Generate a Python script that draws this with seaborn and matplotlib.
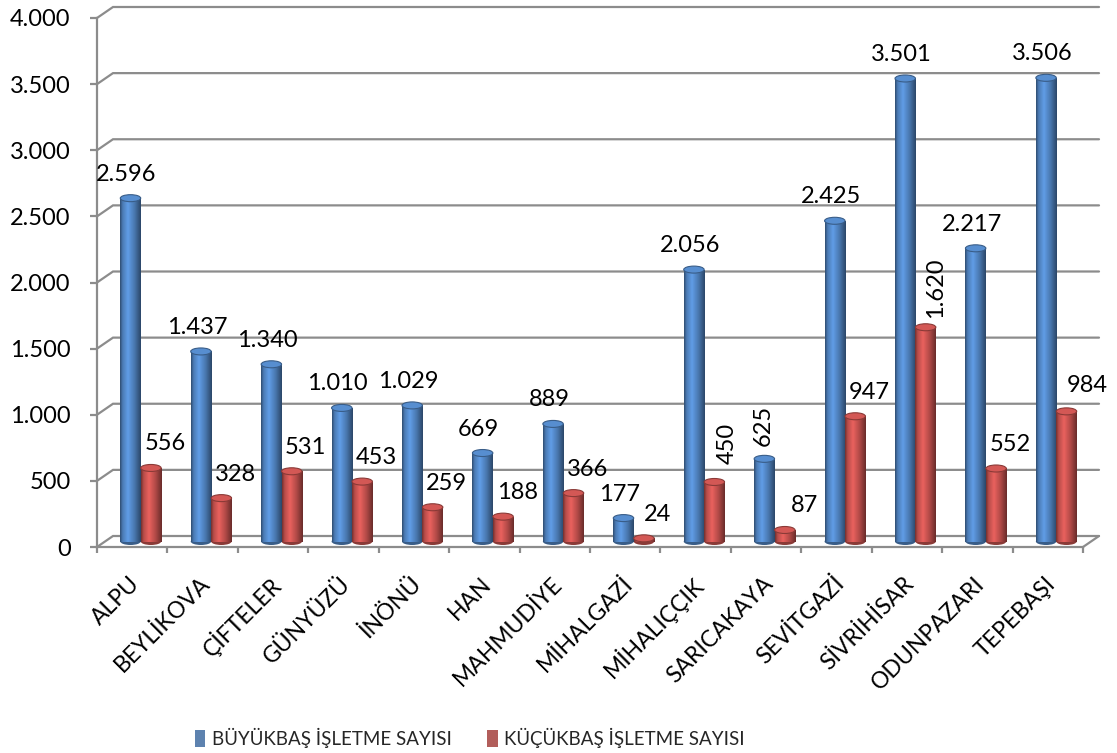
import numpy as np
import pandas as pd
import matplotlib
matplotlib.use("Agg")
import matplotlib.pyplot as plt
from matplotlib.patches import Ellipse
from matplotlib.transforms import ScaledTranslation
from matplotlib.colors import to_rgb
import seaborn as sns

# ---- data ----
districts = ["ALPU", "BEYLİKOVA", "ÇİFTELER", "GÜNYÜZÜ", "İNÖNÜ", "HAN", "MAHMUDİYE",
             "MİHALGAZİ", "MİHALIÇÇIK", "SARICAKAYA", "SEVİTGAZİ", "SİVRİHİSAR",
             "ODUNPAZARI", "TEPEBAŞI"]
buyukbas = [2596, 1437, 1340, 1010, 1029, 669, 889, 177, 2056, 625, 2425, 3501, 2217, 3506]
kucukbas = [556, 328, 531, 453, 259, 188, 366, 24, 450, 87, 947, 1620, 552, 984]
series_names = ["BÜYÜKBAŞ İŞLETME SAYISI", "KÜÇÜKBAŞ İŞLETME SAYISI"]
y_ticks = [0, 500, 1000, 1500, 2000, 2500, 3000, 3500, 4000]

df = pd.DataFrame({
    "ilce": districts * 2,
    "seri": [series_names[0]] * len(districts) + [series_names[1]] * len(districts),
    "deger": buyukbas + kucukbas,
})

sns.set_theme(style="white")
plt.rcParams["font.family"] = ["Lato", "DejaVu Sans"]

BLUE = "#4F81BD"
RED = "#C0504D"
GRID = "#8c8c8c"

W, H, DPI = 1117, 753, 100
fig = plt.figure(figsize=(W / DPI, H / DPI), dpi=DPI)
ax = fig.add_axes([97 / W, (H - 547) / H, (1083 - 97) / W, (547 - 18) / H])

sns.barplot(data=df, x="ilce", y="deger", hue="seri", palette=[BLUE, RED],
            width=0.58, dodge=True, linewidth=0, ax=ax, zorder=3)
handles, labels = ax.get_legend_handles_labels()
if ax.get_legend() is not None:
    ax.get_legend().remove()

n = len(districts)
xmin, xmax = -0.5, n - 0.5
ymax = 4000
ax.set_xlim(xmin, xmax)
ax.set_ylim(0, ymax)

# pixel -> data conversions for the pseudo-3D depth
px_x = (1083 - 97) / n          # pixels per category
px_y = (547 - 18) / ymax        # pixels per unit
depth_dx, depth_dy = 16 / px_x, 11 / px_y

# back wall gridlines with the left-wall diagonals
for v in y_ticks:
    ax.plot([xmin, xmin + depth_dx, xmax + depth_dx], [v, v + depth_dy, v + depth_dy],
            color=GRID, lw=1.6, clip_on=False, zorder=1, solid_joinstyle="miter")
# right floor edge
ax.plot([xmax, xmax + depth_dx], [0, depth_dy], color=GRID, lw=1.6, clip_on=False, zorder=1)

# cylinders sit half way into the depth
mid = ax.transData + ScaledTranslation(8.5 / DPI, 5.5 / DPI, fig.dpi_scale_trans)
cap_h = 7 / px_y


def shade(base, dark=0.6, light=1.22):
    r = np.array(to_rgb(base))
    xs = np.linspace(0, 1, 64)
    # highlight left of centre, darker edges
    prof = np.interp(xs, [0.0, 0.12, 0.38, 0.7, 1.0], [dark, 0.95, light, 0.92, dark - 0.05])
    cols = np.clip(r[None, :] * prof[:, None], 0, 1)
    return cols[None, :, :]


for cont, base in zip(ax.containers, [BLUE, RED]):
    grad = shade(base)
    cap_col = np.clip(np.array(to_rgb(base)) * 1.1, 0, 1)
    edge_col = np.array(to_rgb(base)) * 0.72
    for bar in cont:
        bar.set_transform(mid)
        x0, w, h = bar.get_x(), bar.get_width(), bar.get_height()
        im = ax.imshow(grad, extent=(x0, x0 + w, 0, h), aspect="auto",
                       interpolation="bilinear", zorder=3.1)
        im.set_transform(mid)
        bottom = Ellipse((x0 + w / 2, 0), w, cap_h, transform=mid,
                         facecolor=tuple(edge_col), edgecolor="none", zorder=2.9)
        ax.add_patch(bottom)
        top = Ellipse((x0 + w / 2, h), w, cap_h, transform=mid,
                      facecolor=tuple(cap_col), edgecolor=tuple(edge_col), lw=0.8, zorder=3.2)
        ax.add_patch(top)

ax.set_xlim(xmin, xmax)
ax.set_ylim(0, ymax)


def fmt(v):
    return f"{v:,}".replace(",", ".")


# value labels: (dx px, gap px above top, rotation)
special = {(1, 8): (13, 39, 90), (0, 9): (-1, 33, 90), (1, 11): (10, 40, 90),
           (1, 9): (20, 24, 0), (1, 13): (21, 26, 0)}
for s, cont in enumerate(ax.containers):
    vals = buyukbas if s == 0 else kucukbas
    for i, bar in enumerate(cont):
        cx = bar.get_x() + bar.get_width() / 2
        dx, gap, rot = special.get((s, i), (-4 if s == 0 else 14, 24, 0))
        ax.annotate(fmt(vals[i]), xy=(cx, vals[i]), xycoords=mid,
                    xytext=(dx, gap), textcoords="offset pixels",
                    ha="center", va="center", rotation=rot,
                    fontsize=17, color="black", zorder=5, annotation_clip=False)

# axes styling
for side in ["top", "right"]:
    ax.spines[side].set_visible(False)
for side in ["left", "bottom"]:
    ax.spines[side].set_color(GRID)
    ax.spines[side].set_linewidth(1.6)
    ax.spines[side].set_zorder(1)

ax.set_yticks(y_ticks)
ax.set_yticklabels([fmt(v) for v in y_ticks])
ax.tick_params(axis="y", length=5, width=1.6, color=GRID, pad=14, labelsize=17,
               labelcolor="black", left=True)
ax.set_xticks(np.arange(n))
ax.set_xticks(np.arange(n + 1) - 0.5, minor=True)
ax.tick_params(axis="x", which="major", length=0, pad=24, labelsize=16.5, labelcolor="black")
ax.tick_params(axis="x", which="minor", length=4.5, width=1.6, color=GRID, bottom=True)
shift = ScaledTranslation(4 / DPI, 0, fig.dpi_scale_trans)
for lab in ax.get_xticklabels():
    lab.set_rotation(45)
    lab.set_ha("right")
    lab.set_va("center")
    lab.set_rotation_mode("anchor")
    lab.set_transform(lab.get_transform() + shift)
ax.set_xlabel("")
ax.set_ylabel("")
ax.grid(False)
ax.set_facecolor("none")

fig.legend(handles, labels, loc="center", bbox_to_anchor=(470 / W, 15 / H), ncol=2,
           frameon=False, fontsize=13.5,
           handlelength=0.55, handleheight=1.0, handletextpad=0.35, columnspacing=1.9)

fig.savefig("out.png", dpi=DPI, facecolor="white")
